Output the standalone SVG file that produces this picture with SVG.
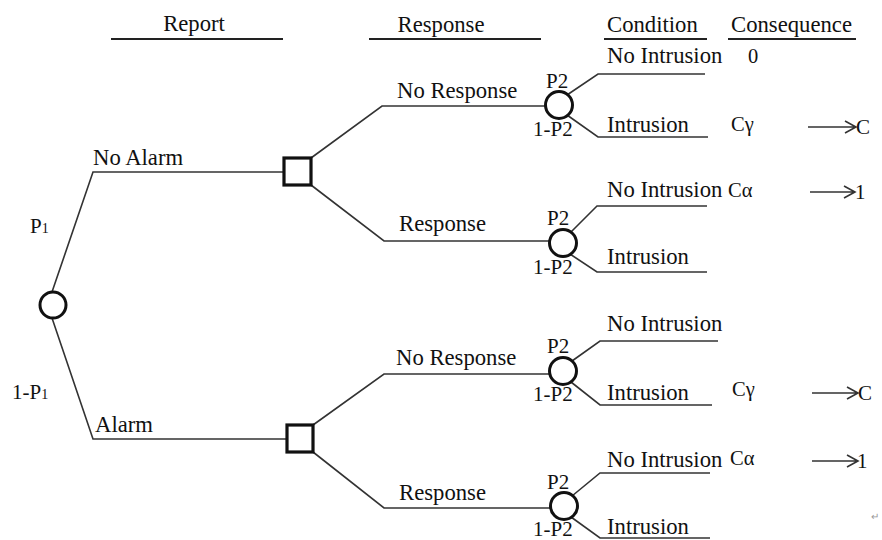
<svg xmlns="http://www.w3.org/2000/svg" width="882" height="540" viewBox="0 0 882 540">
<style>
text{font-family:"Liberation Serif","Times New Roman",serif;fill:#111}
.h{font-size:22.7px}
.l{font-size:22.7px}
.p{font-size:21px}
.c{font-size:20.5px}
.e{stroke:#333;stroke-width:1.6;fill:none}
.u{stroke:#222;stroke-width:1.8;fill:none}
.ch{fill:#fff;stroke:#111;stroke-width:3}
.dec{fill:#fff;stroke:#111;stroke-width:3.2}
.arr{stroke:#333;stroke-width:1.6;fill:none}
</style>
<rect width="882" height="540" fill="#fff"/>
<g id="headers">
<text class="h" x="194" y="31" text-anchor="middle">Report</text>
<line class="u" x1="111" y1="39" x2="283" y2="39"/>
<text class="h" x="441" y="32" text-anchor="middle">Response</text>
<line class="u" x1="369" y1="39" x2="541" y2="39"/>
<text class="h" x="607" y="32">Condition</text>
<line class="u" x1="604" y1="39" x2="707" y2="39"/>
<text class="h" x="731" y="32">Consequence</text>
<line class="u" x1="728" y1="39" x2="856" y2="39"/>
</g>
<g id="connectors">
<path class="e" d="M52,292 L93,172 H283"/>
<path class="e" d="M52,318 L93,439 H286"/>
<path class="e" d="M311,158 L382,106 H545"/>
<path class="e" d="M311,185 L384,241 H549"/>
<path class="e" d="M313,425 L384,374 H549"/>
<path class="e" d="M313,452 L384,508 H550"/>
<path class="e" d="M567,95 L598,74 H705"/>
<path class="e" d="M567,115 L598,137 H708"/>
<path class="e" d="M571,232 L597,206 H707"/>
<path class="e" d="M570,254 L597,272 H707"/>
<path class="e" d="M572,361 L600,341 H718"/>
<path class="e" d="M571,382 L600,405 H712"/>
<path class="e" d="M572,496 L600,473 H710"/>
<path class="e" d="M571,517 L600,538 H710"/>
</g>
<g id="root">
<circle class="ch" cx="53" cy="305" r="13"/>
<text class="p" x="30" y="233">P<tspan font-size="14">1</tspan></text>
<text class="p" x="12" y="399">1-P<tspan font-size="14">1</tspan></text>
</g>
<g id="no-alarm">
<text class="l" x="93" y="165">No Alarm</text>
<rect class="dec" x="284" y="158" width="27" height="27"/>
</g>
<g id="alarm">
<text class="l" x="95" y="432">Alarm</text>
<rect class="dec" x="287" y="425" width="26" height="27"/>
</g>
<g id="chance1">
<text class="l" x="397" y="98">No Response</text>
<circle class="ch" cx="559" cy="105" r="13.5"/>
<text class="p" x="546" y="88">P2</text>
<text class="p" x="533" y="136">1-P2</text>
</g>
<g id="chance2">
<text class="l" x="399" y="231">Response</text>
<circle class="ch" cx="563" cy="243" r="13.5"/>
<text class="p" x="547" y="225">P2</text>
<text class="p" x="533" y="274">1-P2</text>
</g>
<g id="chance3">
<text class="l" x="396" y="365">No Response</text>
<circle class="ch" cx="563" cy="371" r="13.5"/>
<text class="p" x="547" y="353">P2</text>
<text class="p" x="533" y="401">1-P2</text>
</g>
<g id="chance4">
<text class="l" x="399" y="500">Response</text>
<circle class="ch" cx="564" cy="506" r="13.5"/>
<text class="p" x="547" y="489">P2</text>
<text class="p" x="533" y="536">1-P2</text>
</g>
<g id="outcomes">
<text class="l" x="607" y="63">No Intrusion</text>
<text class="c" x="748" y="63">0</text>
<text class="l" x="607" y="132">Intrusion</text>
<text class="c" x="731" y="131">Cγ</text>
<path class="arr" d="M808,127 H855 M845,121 L856,127 L845,133"/>
<text class="p" x="856" y="134">C</text>
<text class="l" x="607" y="197">No Intrusion</text>
<text class="c" x="728" y="197">Cα</text>
<path class="arr" d="M810,192 H854 M844,186 L855,192 L844,198"/>
<text class="p" x="855" y="199">1</text>
<text class="l" x="607" y="264">Intrusion</text>
<text class="l" x="607" y="331">No Intrusion</text>
<text class="l" x="607" y="400">Intrusion</text>
<text class="c" x="732" y="396">Cγ</text>
<path class="arr" d="M812,393 H857 M847,387 L858,393 L847,399"/>
<text class="p" x="858" y="400">C</text>
<text class="l" x="607" y="467">No Intrusion</text>
<text class="c" x="730" y="465">Cα</text>
<path class="arr" d="M812,461 H857 M847,455 L858,461 L847,467"/>
<text class="p" x="857" y="468">1</text>
<text class="l" x="607" y="534">Intrusion</text>
<text x="871" y="520" font-size="10" fill="#999" style="fill:#999">↵</text>
</g>
</svg>
